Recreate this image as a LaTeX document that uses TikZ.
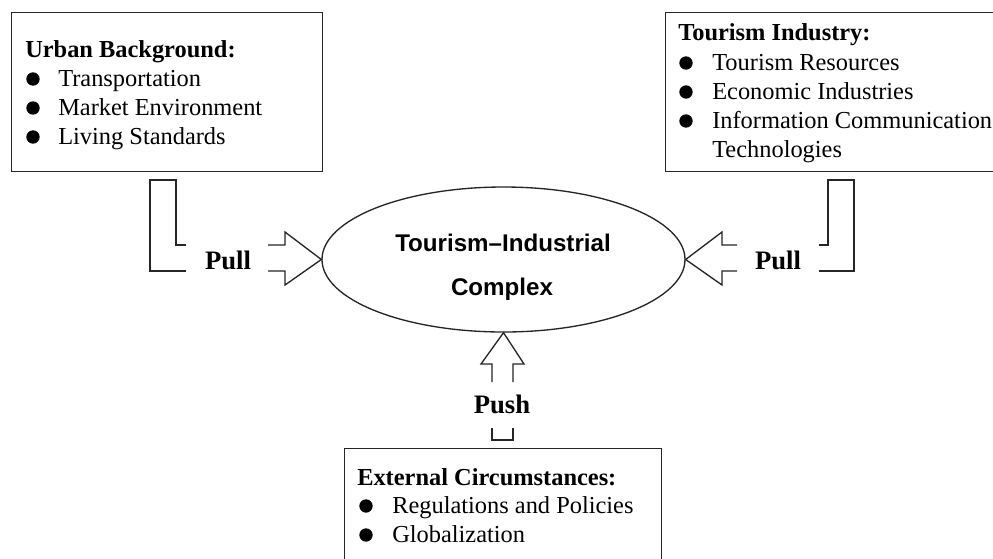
\documentclass[tikz,border=0pt]{standalone}
\usepackage{fontspec}
\setmainfont{Liberation Serif}
\newfontfamily\arialfont{Liberation Sans}
\usetikzlibrary{shapes.geometric}
\tikzset{
  frame/.style={draw=black!85, line width=1pt, inner sep=0pt},
  lst/.style={inner sep=0pt, anchor=base west, font=\fontsize{18.3}{22}\selectfont},
  ttl/.style={lst, font=\fontsize{18.3}{22}\selectfont\bfseries},
  force/.style={inner sep=0pt, anchor=base, font=\fontsize{20}{24}\selectfont\bfseries},
  core/.style={inner sep=0pt, anchor=base, font=\fontsize{18.1}{22}\selectfont\arialfont\bfseries},
  outl/.style={draw=black!85, line width=1pt, line join=miter},
  dot/.style={fill=black}
}
\begin{document}
\begin{tikzpicture}[x=0.75pt, y=-0.75pt]
\clip (0,0) rectangle (993,558);
\fill[white] (0,0) rectangle (993,558);

% boxes
\node[frame, minimum width=233.25pt, minimum height=119.25pt, anchor=north west] (lbox) at (11,12) {};
\node[frame, minimum width=251.25pt, minimum height=119.25pt, anchor=north west] (rbox) at (665,12) {};
\node[frame, minimum width=237.75pt, minimum height=120pt, anchor=north west] (bbox) at (344,448) {};

% left box text
\node[ttl] (lt) at (25,57) {Urban Background:};
\node[lst] (l1) at (58,86) {Transportation};
\node[lst] (l2) at (58,115) {Market Environment};
\node[lst] (l3) at (58,144) {Living Standards};
\fill[dot] (33,79) circle (5pt);
\fill[dot] (33,108) circle (5pt);
\fill[dot] (33,137) circle (5pt);

% right box text
\node[ttl] (rt) at (678,40) {Tourism Industry:};
\node[lst] (r1) at (712,70) {Tourism Resources};
\node[lst] (r2) at (712,99) {Economic Industries};
\node[lst] (r3) at (712,128) {Information Communication};
\node[lst] (r4) at (712,157) {Technologies};
\fill[dot] (686,63) circle (5pt);
\fill[dot] (686,92) circle (5pt);
\fill[dot] (686,121) circle (5pt);

% bottom box text
\node[ttl] (bt) at (357,485) {External Circumstances:};
\node[lst] (b1) at (392,513) {Regulations and Policies};
\node[lst] (b2) at (392,542) {Globalization};
\fill[dot] (366,506) circle (5pt);
\fill[dot] (366,535) circle (5pt);

% ellipse
\node[draw=black!85, line width=1pt, ellipse, inner sep=0pt, minimum width=272.25pt, minimum height=108.75pt] (ell) at (503.5,259.5) {};
\node[core] (c1) at (503,251) {Tourism–Industrial};
\node[core] (c2) at (502,295) {Complex};

% left pull
\draw[outl] (186,245) -- (176,245) -- (176,180) -- (150,180) -- (150,271) -- (186,271);
\draw[outl] (268,245) -- (285,245) -- (285,232) -- (ell.west) -- (285,285) -- (285,271) -- (268,271);
\node[force] (pl) at (228,269) {Pull};

% right pull
\draw[outl] (737,245) -- (722,245) -- (722,232) -- (ell.east) -- (722,285) -- (722,271) -- (737,271);
\draw[outl] (819,245) -- (828,245) -- (828,180) -- (854,180) -- (854,271) -- (819,271);
\node[force] (pr) at (778,269) {Pull};

% push
\draw[outl] (492,382) -- (492,364) -- (481,364) -- (ell.south) -- (524,364) -- (513,364) -- (513,382);
\draw[outl] (492,428) -- (492,440) -- (513,440) -- (513,428);
\node[force] (pu) at (502,413) {Push};
\end{tikzpicture}
\end{document}
